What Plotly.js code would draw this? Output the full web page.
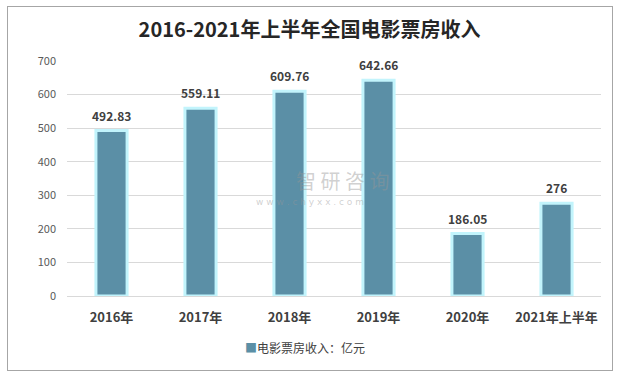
<!DOCTYPE html>
<html><head><meta charset="utf-8">
<script src="https://cdn.plot.ly/plotly-3.0.1.min.js"></script>
<style>
html,body{margin:0;padding:0;background:#fff;}
#wrap{position:relative;width:619px;height:378px;}
#chart{width:619px;height:378px;}
#border{position:absolute;left:7px;top:6px;width:604px;height:363px;border:1px solid #a6a6a6;pointer-events:none;}
</style></head>
<body>
<div id="wrap"><div id="chart"></div><div id="border"></div></div>
<script>
const categories = ["2016年","2017年","2018年","2019年","2020年","2021年上半年"];
const revenue = [492.83, 559.11, 609.76, 642.66, 186.05, 276];
const labels = ["492.83","559.11","609.76","642.66","186.05","276"];
const seriesName = "电影票房收入：亿元";
const yTicks = [0,100,200,300,400,500,600,700];

const FONT = '"Noto Sans CJK SC", "Microsoft YaHei", sans-serif';
const BAR = '#5B8FA6';

const trace = {
  type: 'bar',
  x: categories,
  y: revenue,
  name: seriesName,
  marker: {color: BAR, line: {color: '#c2f4fc', width: 3}},
  width: 0.35,
  showlegend: false
};

const valueLabels = categories.map((c, i) => ({
  x: c, y: revenue[i], xref: 'x', yref: 'y', text: '<b>' + labels[i] + '</b>',
  showarrow: false, yanchor: 'bottom', yshift: 5,
  font: {family: FONT, size: 12, color: '#404040'}
}));

const layout = {
  width: 619, height: 378,
  margin: {l: 67, r: 18, t: 61, b: 82},
  paper_bgcolor: '#ffffff', plot_bgcolor: '#ffffff',
  title: {text: '<b>2016-2021年上半年全国电影票房收入</b>', x: 0.5, xanchor: 'center', y: 0.92, yanchor: 'middle',
          font: {family: FONT, size: 20, color: '#262626'}},
  xaxis: {type: 'category', showgrid: false, showline: true, linecolor: '#d9d9d9', linewidth: 1,
          ticks: '', ticklabelstandoff: 9,
          tickfont: {family: FONT, size: 13, color: '#404040', weight: 'bold'}},
  yaxis: {range: [0, 700], tickvals: yTicks, showgrid: true, gridcolor: '#d9d9d9', zeroline: false,
          showline: false, ticks: '', ticklabelstandoff: 10,
          tickfont: {family: FONT, size: 11, color: '#595959'}},
  showlegend: false,
  annotations: valueLabels.concat([
    {xref: 'paper', yref: 'paper', x: 0.445, y: -0.221, xanchor: 'center', yanchor: 'middle', showarrow: false,
     text: '<span style="color:' + BAR + '">■</span>' + seriesName,
     font: {family: FONT, size: 12, color: '#404040'}},
    {xref: 'paper', yref: 'paper', x: 0.515, y: 0.49, text: '智 研 咨 询', showarrow: false,
     font: {family: FONT, size: 20, color: 'rgba(150,150,150,0.45)'}},
    {xref: 'paper', yref: 'paper', x: 0.455, y: 0.4, text: 'w w w . c h y x x . c o m', showarrow: false,
     font: {family: 'DejaVu Sans', size: 9, color: 'rgba(150,150,150,0.45)'}}
  ])
};

Plotly.newPlot('chart', [trace], layout, {displayModeBar: false, staticPlot: true});
</script>
</body></html>
